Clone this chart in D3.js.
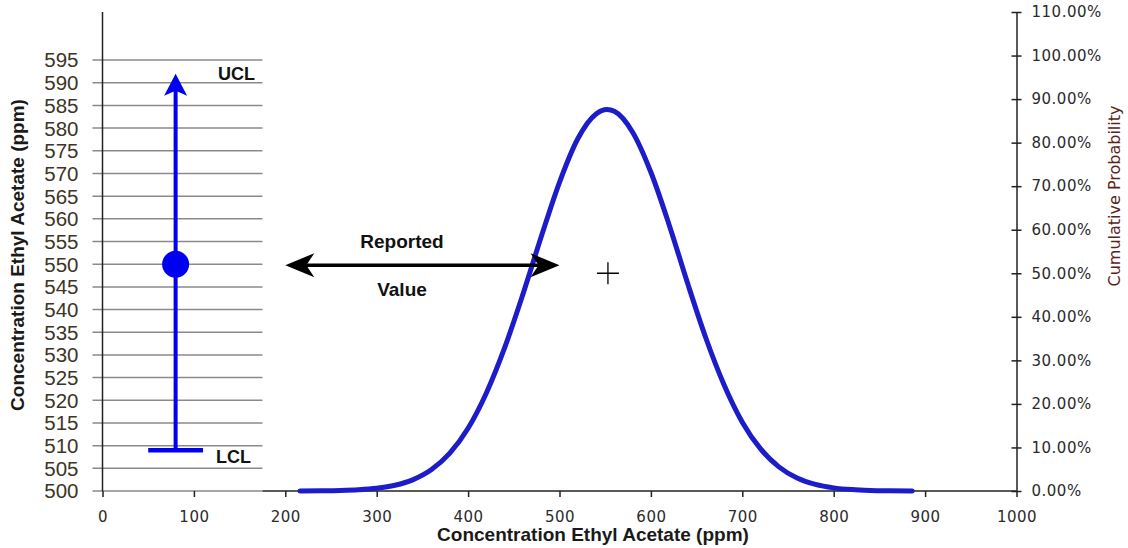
<!DOCTYPE html>
<html lang="en">
<head>
<meta charset="UTF-8">
<title>Concentration Ethyl Acetate</title>
<script src="https://d3js.org/d3.v7.min.js"></script>
<style>
    body { margin: 0; background: #fff; }
    .tickLeft { font-family: "Liberation Sans", Arial, sans-serif; font-size: 20.5px; fill: #3d3526; }
    .tickV { font-family: "DejaVu Sans", Verdana, sans-serif; font-size: 15px; fill: #2b2b2b; letter-spacing: 0.5px; }
    .title { font-family: "Liberation Sans", Arial, sans-serif; font-size: 19px; font-weight: bold; fill: #1a1a1a; }
    .note { font-family: "Liberation Sans", Arial, sans-serif; font-weight: bold; fill: #111; }
</style>
</head>
<body>
<script>

    // bottom axis (ppm)
    var xTicks = [0, 100, 200, 300, 400, 500, 600, 700, 800, 900, 1000];
    // left control chart axis (ppm)
    var leftTicks = [500, 505, 510, 515, 520, 525, 530, 535, 540, 545, 550, 555, 560, 565, 570, 575, 580, 585, 590, 595];
    // right axis (%)
    var rightTicks = [0, 10, 20, 30, 40, 50, 60, 70, 80, 90, 100, 110];

    // control chart values
    var reported = 550;
    var ucl = 592;
    var lcl = 509;
    var controlX = 80;
    var lclBar = [50, 110];

    // reported value arrow, spans on bottom scale
    var arrowSpan = [200, 500];
    // "+" marker (ppm, %)
    var marker = [553, 50];

    // curve: ppm vs percent on right axis
    var curveX = [216, 240, 260, 280, 300, 320, 340, 360, 380, 400, 420, 440, 460, 480, 500, 520, 540, 552,
                  560, 580, 600, 620, 640, 660, 680, 700, 720, 740, 760, 780, 800, 820, 840, 860, 886];
    var curveY = [0.01, 0.04, 0.11, 0.27, 0.61, 1.31, 2.62, 4.92, 8.69, 14.4, 22.5, 32.9, 45.2, 58.4, 70.9, 80.9, 86.6, 87.6,
                  87.2, 82.4, 73.2, 61.1, 47.8, 35.2, 24.4, 15.8, 9.66, 5.54, 2.98, 1.51, 0.72, 0.32, 0.13, 0.05, 0.01];

    var width = 1128;
    var height = 548;
    var panelEnd = 175;   // where the left grid stops, in bottom units

    var svg = d3.select("body").append("svg")
        .attr("width", width)
        .attr("height", height);

    var x = d3.scaleLinear().domain([0, 1000]).range([102.5, 1016.5]);
    var yLeft = d3.scaleLinear().domain([500, 605.6]).range([491, 12]);
    var yRight = d3.scaleLinear().domain([0, 110]).range([491, 12]);

    // left grid
    var grid = svg.append("g");
    grid.selectAll("line")
        .data(leftTicks)
        .enter()
        .append("line")
        .attr("x1", x(0) - 10)
        .attr("x2", x(panelEnd))
        .attr("y1", function (d) { return yLeft(d); })
        .attr("y2", function (d) { return yLeft(d); })
        .attr("stroke", "#8a8a8a")
        .attr("stroke-width", 1.5);

    grid.selectAll("text")
        .data(leftTicks)
        .enter()
        .append("text")
        .attr("class", "tickLeft")
        .attr("x", x(0) - 24)
        .attr("y", function (d) { return yLeft(d); })
        .attr("dy", "0.36em")
        .attr("text-anchor", "end")
        .text(function (d) { return d; });

    svg.append("line")
        .attr("x1", x(0)).attr("x2", x(0))
        .attr("y1", yLeft.range()[1]).attr("y2", yLeft(500))
        .attr("stroke", "#222")
        .attr("stroke-width", 1.5);

    // bottom axis
    var xAxis = svg.append("g")
        .attr("transform", "translate(0," + yRight(0) + ")")
        .call(d3.axisBottom(x).tickValues(xTicks).tickSize(6).tickSizeOuter(0).tickFormat(d3.format("d")));
    xAxis.select(".domain").remove();
    xAxis.selectAll(".tick line").attr("stroke", "#222").attr("stroke-width", 1.5);
    xAxis.selectAll(".tick text").attr("class", "tickV").attr("dy", "1.45em").attr("fill", null);

    svg.append("line")
        .attr("x1", x(panelEnd)).attr("x2", x(1000))
        .attr("y1", yRight(0)).attr("y2", yRight(0))
        .attr("stroke", "#222")
        .attr("stroke-width", 1.5);

    // right axis
    var rAxis = svg.append("g")
        .attr("transform", "translate(" + x(1000) + ",0)")
        .call(d3.axisRight(yRight).tickValues(rightTicks).tickSize(5).tickSizeOuter(0)
            .tickFormat(function (d) { return d.toFixed(2) + "%"; }));
    rAxis.select(".domain").attr("stroke", "#222").attr("stroke-width", 1.5);
    rAxis.selectAll(".tick line").attr("x1", -5).attr("stroke", "#222").attr("stroke-width", 1.5);
    rAxis.selectAll(".tick text").attr("class", "tickV").attr("x", 15).attr("fill", null);

    // titles
    svg.append("text")
        .attr("class", "title")
        .attr("x", 593).attr("y", 541)
        .attr("text-anchor", "middle")
        .text("Concentration Ethyl Acetate (ppm)");

    svg.append("text")
        .attr("class", "title")
        .attr("transform", "translate(24,255) rotate(-90)")
        .attr("text-anchor", "middle")
        .text("Concentration Ethyl Acetate (ppm)");

    svg.append("text")
        .attr("transform", "translate(1120,196) rotate(-90)")
        .attr("text-anchor", "middle")
        .style("font-family", "'DejaVu Sans', Verdana, sans-serif")
        .style("font-size", "16px")
        .attr("fill", "#5a2418")
        .text("Cumulative Probability");

    // distribution curve
    var curveData = curveX.map(function (d, i) { return [d, curveY[i]]; });
    svg.append("path")
        .datum(curveData)
        .attr("d", d3.line()
            .x(function (d) { return x(d[0]); })
            .y(function (d) { return yRight(d[1]); })
            .curve(d3.curveMonotoneX))
        .attr("fill", "none")
        .attr("stroke", "#1c1cc9")
        .attr("stroke-width", 5)
        .attr("stroke-linecap", "round");

    // control chart
    var blue = "#0000ee";
    var cx = x(controlX);
    svg.append("line")
        .attr("x1", cx).attr("x2", cx)
        .attr("y1", yLeft(lcl)).attr("y2", yLeft(ucl) + 12)
        .attr("stroke", blue).attr("stroke-width", 4);

    var tipY = yLeft(ucl);
    svg.append("path")
        .attr("d", "M" + cx + "," + tipY +
            " L" + (cx + 11.5) + "," + (tipY + 22) +
            " L" + cx + "," + (tipY + 17) +
            " L" + (cx - 11.5) + "," + (tipY + 22) + " Z")
        .attr("fill", blue);

    svg.append("line")
        .attr("x1", x(lclBar[0])).attr("x2", x(lclBar[1]))
        .attr("y1", yLeft(lcl)).attr("y2", yLeft(lcl))
        .attr("stroke", blue).attr("stroke-width", 4.5);

    svg.append("circle")
        .attr("cx", cx).attr("cy", yLeft(reported))
        .attr("r", 13.5)
        .attr("fill", blue);

    svg.append("text").attr("class", "note")
        .attr("x", 218).attr("y", yLeft(ucl) + 6)
        .style("font-size", "18px")
        .text("UCL");
    svg.append("text").attr("class", "note")
        .attr("x", 216).attr("y", yLeft(lcl) + 13)
        .style("font-size", "18px")
        .text("LCL");

    // reported value double arrow
    var ay = yLeft(reported) + 1;
    var ax1 = x(arrowSpan[0]), ax2 = x(arrowSpan[1]);
    svg.append("line")
        .attr("x1", ax1 + 15).attr("x2", ax2 - 15)
        .attr("y1", ay).attr("y2", ay)
        .attr("stroke", "#000").attr("stroke-width", 3.5);

    function arrowHead(tx, dir) {
        return "M" + tx + "," + ay +
            " L" + (tx + dir * 29) + "," + (ay - 12) +
            " L" + (tx + dir * 21) + "," + ay +
            " L" + (tx + dir * 29) + "," + (ay + 12) + " Z";
    }
    svg.append("path").attr("d", arrowHead(ax1, 1)).attr("fill", "#000");
    svg.append("path").attr("d", arrowHead(ax2, -1)).attr("fill", "#000");

    svg.append("text").attr("class", "note")
        .attr("x", 402).attr("y", 248)
        .attr("text-anchor", "middle")
        .style("font-size", "19px")
        .text("Reported");
    svg.append("text").attr("class", "note")
        .attr("x", 402).attr("y", 296)
        .attr("text-anchor", "middle")
        .style("font-size", "19px")
        .text("Value");

    // "+" marker
    var mx = x(marker[0]), my = yRight(marker[1]);
    svg.append("path")
        .attr("d", "M" + (mx - 11) + "," + my + " H" + (mx + 11) + " M" + mx + "," + (my - 11) + " V" + (my + 11))
        .attr("stroke", "#000")
        .attr("stroke-width", 1.3);

</script>
</body>
</html>
